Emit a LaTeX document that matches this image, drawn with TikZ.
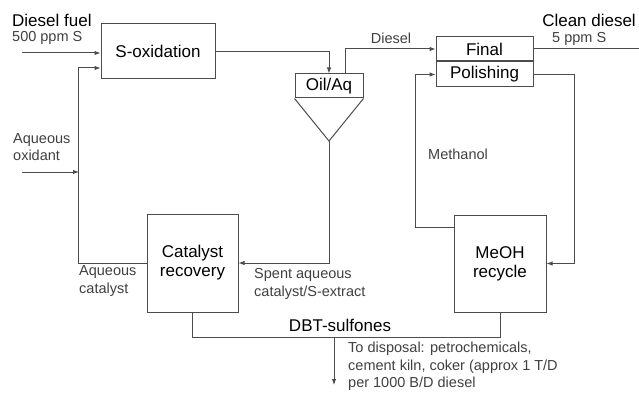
\documentclass[tikz,border=0pt]{standalone}
\usepackage{fontspec}
\setmainfont{Liberation Sans}
\usepackage{tikz}
\usetikzlibrary{arrows.meta}

\tikzset{
   unit/.style={draw=black!70, line width=1pt, inner sep=0pt, align=center,
      font=\fontsize{17}{19}\selectfont},
   pipe/.style={draw=black!70, line width=1pt},
   flow/.style={pipe, -{Latex[length=6pt,width=4.5pt]}},
   tag/.style={inner sep=0pt, align=left, text=black!75,
      font=\fontsize{14.5}{17.5}\selectfont},
   bigtag/.style={inner sep=0pt, font=\fontsize{17}{19}\selectfont}
}

\begin{document}
\begin{tikzpicture}[x=1pt, y=-1pt]
   \useasboundingbox (0,0) rectangle (639,393);

   % process units
   \node[name=soxid, unit, minimum width=114pt, minimum height=55pt] at (158,51.5) {S-oxidation};
   \node[name=oilaq, unit, minimum width=68pt, minimum height=24pt] at (329,86) {Oil/Aq};
   \node[name=final, unit, minimum width=97pt, minimum height=24pt] at (484.5,49) {Final};
   \node[name=polish, unit, minimum width=97pt, minimum height=25pt, anchor=north] at (final.south) {Polishing};
   \node[name=catrec, unit, minimum width=91pt, minimum height=98pt] at (192.5,263) {Catalyst\\recovery};
   \node[name=meoh, unit, minimum width=92pt, minimum height=97pt] at (500,263.5) {MeOH\\recycle};

   % settler cone under Oil/Aq
   \coordinate (apex) at (329,141);
   \draw[pipe] (oilaq.south west) -- (apex) -- (oilaq.south east);

   % free ends
   \coordinate (fuelin) at (22,53);
   \coordinate (oxin) at (22,172);
   \coordinate (oxjoin) at (79,172);
   \coordinate (cleanout) at (639,49);
   \coordinate (dbtsplit) at (334,337);
   \coordinate (disposal) at (334,385);

   % streams
   \draw[flow] (fuelin) -- (fuelin -| soxid.west);
   \draw[flow] (oxin) -- (oxjoin);
   \draw[flow] (soxid.east) -| (oilaq.north);
   \draw[flow] ([xshift=16pt]oilaq.north) |- (final.west);
   \draw[pipe] (final.east) -- (cleanout);
   \draw[flow] (polish.east) -- ++(41,0) |- (meoh.east);
   \draw[flow] ([yshift=36.5pt]meoh.west) -- ++(-38,0) |- (polish.west);
   \draw[flow] (apex) |- (catrec.east);
   \draw[flow] (catrec.west) -- ++(-68,0) |- ([yshift=-16.5pt]soxid.west);
   \draw[pipe] (catrec.south) -- ++(0,25) -| (meoh.south);
   \draw[flow] (dbtsplit) -- (disposal);

   % labels
   \node[bigtag, anchor=west] (fuellbl) at (12,20) {Diesel fuel};
   \node[tag, anchor=west] (fuelppm) at (12,38) {500 ppm S};
   \node[tag, anchor=west] (oxlbl) at (13,147) {Aqueous\\oxidant};
   \node[tag, anchor=west] (aqcatlbl) at (79,281) {Aqueous\\catalyst};
   \node[tag] (diesellbl) at (391,38) {Diesel};
   \node[bigtag, anchor=east] (cleanlbl) at (636,20) {Clean diesel};
   \node[tag, anchor=west] (cleanppm) at (552,39) {5 ppm S};
   \node[tag, anchor=west] (methlbl) at (428,154) {Methanol};
   \node[tag, anchor=west] (spentlbl) at (254,284) {Spent aqueous\\catalyst/S-extract};
   \node[bigtag] (dbtlbl) at (340,325) {DBT-sulfones};
   \node[tag, anchor=north west] (displbl) at (348,342) {To disposal: petrochemicals,\\cement kiln, coker (approx 1 T/D\\per 1000 B/D diesel};

\end{tikzpicture}
\end{document}
